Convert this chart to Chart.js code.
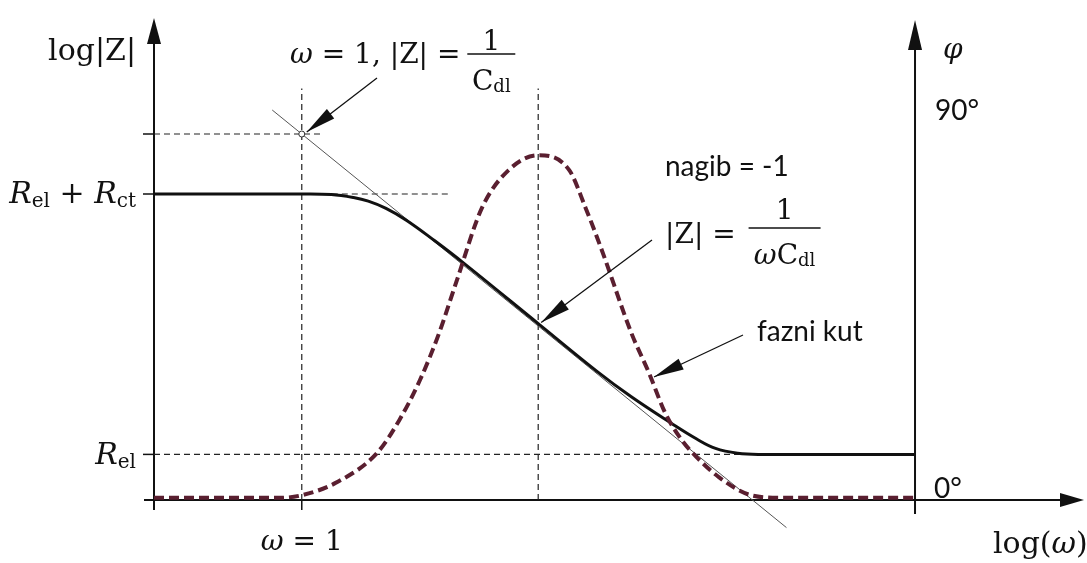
<!DOCTYPE html>
<html>
<head>
<meta charset="utf-8">
<script src="https://cdn.jsdelivr.net/npm/chart.js@4.4.1/dist/chart.umd.min.js"></script>
<style>
  html, body { margin: 0; padding: 0; background: #fff; }
  #wrap { width: 1087px; height: 563px; position: relative; }
</style>
</head>
<body>
<div id="wrap"><canvas id="bode"></canvas></div>
<script>
"use strict";
// log(omega), omega = 1 sits at 0
var magW = [-1, 0, 0.2, 0.35, 0.45, 0.57, 0.71, 0.9, 1.1, 1.6, 2.0, 2.23, 2.5, 2.67, 2.8, 2.95, 3.1, 4.15];
// log|Z| of the impedance curve
var magZ = [2.55, 2.55, 2.545, 2.52, 2.49, 2.43, 2.33, 2.16, 1.97, 1.47, 1.07, 0.86, 0.64, 0.51, 0.43, 0.39, 0.38, 0.38];

// phase angle (degrees)
var phaseW = [-1, -0.15, 0, 0.24, 0.51, 0.66, 0.8, 0.93, 1.05, 1.22, 1.4, 1.6, 1.81, 1.92, 2.03, 2.23, 2.35, 2.46, 2.57, 2.67, 2.82, 3.04, 3.25, 4.15];
var phaseDeg = [0.5, 0.5, 1.1, 4.1, 10.8, 18.3, 27.5, 38.3, 50.4, 67, 75.6, 79, 75.6, 67, 57.3, 38.3, 29.1, 19.9, 13.8, 9.9, 5.3, 1.1, 0.5, 0.5];

// slope -1 asymptote
var asymW = [-0.2, 3.28];
var asymZ = [3.25, -0.23];

// levels and marks on the axes
var R_EL = 0.38;
var R_EL_CT = 2.55;
var INV_CDL = 3.05;
var W_ONE = 0;
var W_PEAK = 1.6;
var W_PHI = 4.15;
var GUIDE_TOP = 3.43;

function pts(xs, ys) {
    var out = [];
    for (var i = 0; i < xs.length; i++) out.push({x: xs[i], y: ys[i]});
    return out;
}

function guide(xs, ys) {
    return {
        data: pts(xs, ys), showLine: true, borderColor: '#222', borderWidth: 1.2,
        borderDash: [6, 4], pointRadius: 0, order: 5
    };
}

var SERIF = '"DejaVu Serif", serif';
var SANS = 'Lato, "Open Sans", sans-serif';
var F = {
    r: '28px ' + SERIF,
    i: 'italic 28px ' + SERIF,
    s: '18px ' + SERIF,
    rl: '30px ' + SERIF,
    il: 'italic 30px ' + SERIF,
    sl: '20px ' + SERIF,
    sans: '28px ' + SANS
};

function runs(ctx, x, y, parts, align) {
    var w = 0, i;
    for (i = 0; i < parts.length; i++) { ctx.font = parts[i].f; w += ctx.measureText(parts[i].t).width; }
    var cx = align == 'right' ? x - w : (align == 'center' ? x - w / 2 : x);
    for (i = 0; i < parts.length; i++) {
        ctx.font = parts[i].f;
        ctx.fillText(parts[i].t, cx, y + (parts[i].dy || 0));
        cx += ctx.measureText(parts[i].t).width;
    }
    return w;
}

function head(ctx, tx, ty, fx, fy, len, hw) {
    var a = Math.atan2(ty - fy, tx - fx);
    var bx = tx - len * Math.cos(a), by = ty - len * Math.sin(a);
    ctx.beginPath();
    ctx.moveTo(tx, ty);
    ctx.lineTo(bx + hw * Math.sin(a), by - hw * Math.cos(a));
    ctx.lineTo(bx - hw * Math.sin(a), by + hw * Math.cos(a));
    ctx.closePath();
    ctx.fill();
}

function pointer(ctx, fx, fy, tx, ty) {
    ctx.lineWidth = 1.3;
    ctx.beginPath(); ctx.moveTo(fx, fy); ctx.lineTo(tx, ty); ctx.stroke();
    head(ctx, tx, ty, fx, fy, 30, 6);
}

var bodePlugin = {
    id: 'bode',
    beforeDatasetsDraw: function(chart) {
        var ctx = chart.ctx, sx = chart.scales.x, sy = chart.scales.y;
        var a = chart.chartArea;
        var x0 = sx.getPixelForValue(-1), y0 = sy.getPixelForValue(0);
        var xPhi = sx.getPixelForValue(W_PHI);
        ctx.save();
        ctx.strokeStyle = '#111'; ctx.fillStyle = '#111'; ctx.lineWidth = 2;
        // log|Z| axis
        ctx.beginPath(); ctx.moveTo(x0, y0 + 10); ctx.lineTo(x0, a.top + 10); ctx.stroke();
        head(ctx, x0, a.top - 2, x0, y0, 26, 7);
        // log(w) axis
        ctx.beginPath(); ctx.moveTo(x0 - 10, y0); ctx.lineTo(a.right - 10, y0); ctx.stroke();
        head(ctx, a.right + 2, y0, x0, y0, 24, 7);
        // phase axis
        ctx.beginPath(); ctx.moveTo(xPhi, y0 + 14); ctx.lineTo(xPhi, a.top + 10); ctx.stroke();
        head(ctx, xPhi, a.top, xPhi, y0, 30, 7);
        // ticks
        ctx.lineWidth = 1.5;
        [INV_CDL, R_EL_CT, R_EL].forEach(function(v) {
            var py = sy.getPixelForValue(v);
            ctx.beginPath(); ctx.moveTo(x0 - 11, py); ctx.lineTo(x0, py); ctx.stroke();
        });
        var p1 = sx.getPixelForValue(W_ONE);
        ctx.beginPath(); ctx.moveTo(p1, y0); ctx.lineTo(p1, y0 + 10); ctx.stroke();
        ctx.restore();
    },
    afterDatasetsDraw: function(chart) {
        var ctx = chart.ctx, sx = chart.scales.x, sy = chart.scales.y, sp = chart.scales.y2;
        var x0 = sx.getPixelForValue(-1), y0 = sy.getPixelForValue(0);
        var xPhi = sx.getPixelForValue(W_PHI);
        ctx.save();
        ctx.fillStyle = '#111'; ctx.strokeStyle = '#111';
        ctx.textBaseline = 'alphabetic'; ctx.textAlign = 'left';

        // axis labels
        runs(ctx, x0 - 18, 60, [{t: 'log|Z|', f: F.rl}], 'right');
        runs(ctx, x0 - 18, sy.getPixelForValue(R_EL_CT) + 9, [
            {t: 'R', f: F.il}, {t: 'el', f: F.sl, dy: 4}, {t: ' + ', f: F.rl},
            {t: 'R', f: F.il}, {t: 'ct', f: F.sl, dy: 4}], 'right');
        runs(ctx, x0 - 18, sy.getPixelForValue(R_EL) + 10, [
            {t: 'R', f: F.il}, {t: 'el', f: F.sl, dy: 4}], 'right');
        runs(ctx, sx.getPixelForValue(W_ONE), y0 + 50, [
            {t: 'ω', f: F.i}, {t: ' = 1', f: F.r}], 'center');
        runs(ctx, 993, y0 + 53, [
            {t: 'log(', f: F.rl}, {t: 'ω', f: F.il}, {t: ')', f: F.rl}], 'left');
        runs(ctx, xPhi + 28, 58, [{t: 'φ', f: F.i}], 'left');
        runs(ctx, xPhi + 20, sp.getPixelForValue(90) + 13, [{t: '90°', f: F.sans}], 'left');
        runs(ctx, xPhi + 19, y0 - 2, [{t: '0°', f: F.sans}], 'left');

        // omega = 1 note
        var w = runs(ctx, 290, 63, [
            {t: 'ω', f: F.i}, {t: ' = 1, |Z| = ', f: F.r}], 'left');
        var fc = 290 + w + 22;
        runs(ctx, fc, 50, [{t: '1', f: F.r}], 'center');
        ctx.lineWidth = 1.3;
        ctx.beginPath(); ctx.moveTo(fc - 24, 54); ctx.lineTo(fc + 24, 54); ctx.stroke();
        runs(ctx, fc, 90, [{t: 'C', f: F.r}, {t: 'dl', f: F.s, dy: 2}], 'center');

        // slope note
        runs(ctx, 665, 176, [{t: 'nagib = -1', f: F.sans}], 'left');
        w = runs(ctx, 665, 243, [{t: '|Z| = ', f: F.r}], 'left');
        fc = 665 + w + 40;
        runs(ctx, fc, 219, [{t: '1', f: F.r}], 'center');
        ctx.beginPath(); ctx.moveTo(fc - 36, 228); ctx.lineTo(fc + 36, 228); ctx.stroke();
        runs(ctx, fc, 264, [{t: 'ω', f: F.i}, {t: 'C', f: F.r}, {t: 'dl', f: F.s, dy: 2}], 'center');

        runs(ctx, 757, 341, [{t: 'fazni kut', f: F.sans}], 'left');

        // pointers
        pointer(ctx, 377, 78, sx.getPixelForValue(W_ONE) + 5, sy.getPixelForValue(INV_CDL) - 2);
        pointer(ctx, 652, 240, sx.getPixelForValue(W_PEAK) + 3, sy.getPixelForValue(1.47) - 1);
        pointer(ctx, 743, 335, 654, 377);
        ctx.restore();
    }
};

new Chart(document.getElementById('bode'), {
    type: 'scatter',
    data: {
        datasets: [
            {
                data: pts(magW, magZ), showLine: true, borderColor: '#111', borderWidth: 3,
                tension: 0.4, pointRadius: 0, order: 2
            },
            {
                data: pts(phaseW, phaseDeg), yAxisID: 'y2', showLine: true, borderColor: '#5a1f30',
                borderWidth: 4, borderDash: [10, 5], cubicInterpolationMode: 'monotone',
                pointRadius: 0, order: 1
            },
            {
                data: pts(asymW, asymZ), showLine: true, borderColor: '#555', borderWidth: 1,
                pointRadius: 0, clip: false, order: 4
            },
            guide([-1, 0.15], [INV_CDL, INV_CDL]),
            guide([0, 1.0], [R_EL_CT, R_EL_CT]),
            guide([-1, W_PHI], [R_EL, R_EL]),
            guide([W_ONE, W_ONE], [0, GUIDE_TOP]),
            guide([W_PEAK, W_PEAK], [0, GUIDE_TOP]),
            {
                data: [{x: W_ONE, y: INV_CDL}], pointRadius: 3, pointBackgroundColor: '#fff',
                pointBorderColor: '#333', pointBorderWidth: 1, order: 0
            }
        ]
    },
    options: {
        responsive: true,
        maintainAspectRatio: false,
        animation: false,
        layout: { padding: { left: 154, right: 2, top: 20, bottom: 63 } },
        plugins: { legend: { display: false }, tooltip: { enabled: false } },
        scales: {
            x: { type: 'linear', min: -1, max: 5.28, display: false },
            y: { type: 'linear', min: 0, max: 4, display: false },
            y2: { type: 'linear', min: 0, max: 110, display: false, position: 'right' }
        }
    },
    plugins: [bodePlugin]
});
</script>
</body>
</html>
